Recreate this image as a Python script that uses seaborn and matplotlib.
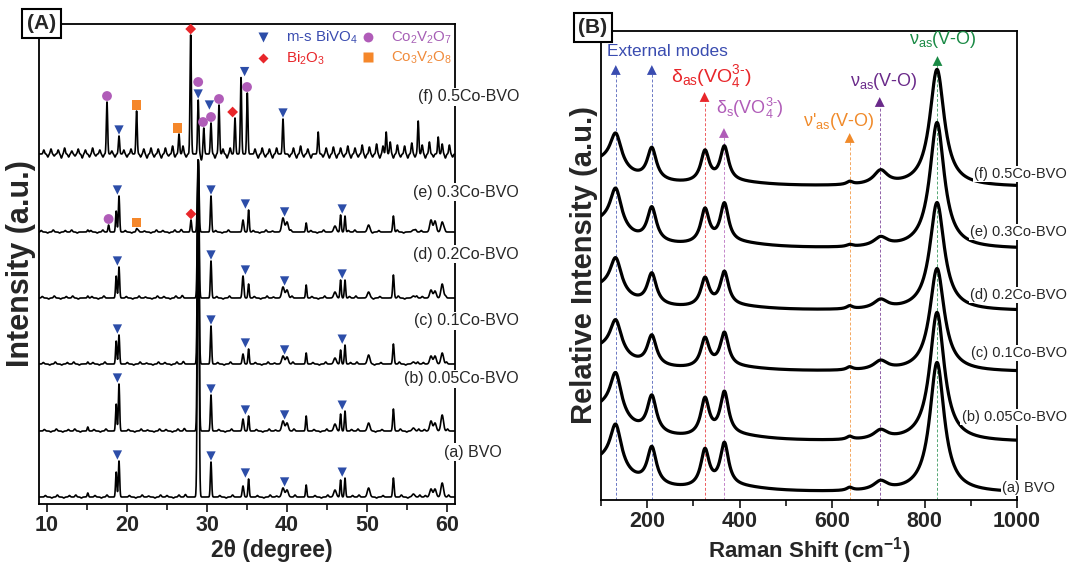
import numpy as np
import pandas as pd
import matplotlib
matplotlib.use('Agg')
import matplotlib.pyplot as plt
from matplotlib.lines import Line2D
import seaborn as sns

# ---------------- panel A : XRD ----------------
samples = ['(a) BVO', '(b) 0.05Co-BVO', '(c) 0.1Co-BVO', '(d) 0.2Co-BVO', '(e) 0.3Co-BVO', '(f) 0.5Co-BVO']
xrd_offsets = [7, 73, 140, 206, 272, 350]

# m-s BiVO4 reflections (2theta, width) and heights for samples a-e
bvo_pos   = [15.1, 18.65, 19.0, 28.9, 30.5, 34.5, 35.2, 39.5, 40.0, 42.4, 46.0, 46.7, 47.25, 50.2, 53.3, 55.8, 58.0, 58.5, 59.4]
bvo_width = [0.08, 0.08, 0.08, 0.1, 0.08, 0.1, 0.08, 0.16, 0.16, 0.08, 0.16, 0.08, 0.08, 0.16, 0.09, 0.16, 0.16, 0.16, 0.16]
xrd_a = [4, 25, 36, 337, 35, 11, 18, 9, 7, 12, 7, 17, 19, 9, 19, 3, 8, 8, 14]
xrd_b = [4, 27, 47, 271, 36, 12, 15, 10, 8, 15, 7, 17, 20, 8, 22, 3, 10, 8, 16]
xrd_c = [2, 23, 29, 204, 38, 10, 15, 8, 7, 11, 6, 14, 19, 9, 20, 2, 8, 8, 11]
xrd_d = [2, 22, 31, 138, 37, 22, 14, 11, 8, 13, 6, 18, 18, 6, 23, 2, 8, 7, 14]
xrd_e = [2, 21, 36, 72, 36, 12, 22, 14, 10, 9, 6, 17, 16, 7, 16, 2, 12, 11, 10]
# weak background ripple seen on samples a-e
ripple_pos = [9.8, 10.6, 11.3, 12.1, 12.8, 13.6, 14.3, 16.0, 16.8, 17.5, 20.3, 21.1, 21.9, 22.7, 23.5, 24.2,
              25.0, 25.8, 26.5, 27.3, 31.6, 32.4, 33.2, 36.3, 37.1, 37.9, 38.7, 41.0, 43.5, 44.3, 45.1,
              48.2, 49.0, 51.2, 52.0, 54.3, 55.1, 56.6, 57.3, 60.2]
ripple_h = [1.5, -1, 2, -1, 1.5, 2, -1, 1.5, -1, 2, 1.5, -1, 2, 1, -1, 2,
            1.5, -1, 2, 2.5, 1.5, -1, 2, 1.5, -1, 2, 1, 2, 1.5, -1, 2,
            1.5, 2, -1, 1.5, 2, -1, 2, 1.5, 2]
# secondary phase reflections in (e)
e_extra_pos = [17.7, 21.2, 28.0]
e_extra_h   = [7, 3, 12]

# sample (f): all reflections
f_pos = [17.5, 19.0, 21.2, 26.5, 27.96, 28.9, 29.6, 30.5, 31.5, 33.5, 34.25, 35.04, 39.5, 43.9, 52.4, 56.4, 58.9]
f_h   = [52, 18, 43, 20, 119, 54, 26, 31, 49, 36, 77, 61, 35, 22, 22, 33, 17]
# noisy background of (f), read as small spikes
f_noise_pos = [9.6, 10.1, 10.5, 10.9, 11.4, 11.8, 12.2, 12.7, 13.1, 13.5, 13.9, 14.4, 14.8, 15.3, 15.7, 16.1,
               16.6, 17.0, 18.1, 18.5, 19.6, 20.0, 20.5, 21.7, 22.1, 22.5, 23.0, 23.4, 23.9, 24.3, 24.8, 25.2,
               25.7, 26.0, 27.0, 27.4, 29.3, 31.0, 32.0, 32.5, 32.9, 36.0, 36.4, 36.9, 37.3, 37.8, 38.2, 38.7,
               40.3, 40.8, 41.2, 41.7, 42.1, 42.6, 43.0, 44.5, 44.9, 45.3, 45.8, 46.2, 46.7, 47.1, 47.6, 48.0,
               48.5, 48.9, 49.4, 49.8, 50.3, 50.7, 51.2, 51.6, 52.0, 52.9, 53.3, 53.8, 54.2, 54.7, 55.1, 55.6,
               56.0, 56.9, 57.3, 57.8, 58.3, 59.4, 59.8, 60.3, 60.7]
f_noise_h = [4, -3, 5, -2, 4, -4, 6, -3, 3, -2, 5, -4, 4, -3, 6, -2,
             4, -3, 3, -3, 4, -3, 5, -3, 5, -4, 6, -3, 5, -4, 6, -2,
             8, -3, 8, -3, -6, -4, 5, -4, 6, 5, -4, 6, -3, 5, -4, 6,
             -3, 6, -4, 8, -3, 5, -4, -3, 6, -4, 7, -4, 6, -3, 8, -4,
             6, -3, 9, -4, 7, -3, 10, -4, 8, 12, -4, 9, -3, 8, -4, 11,
             -3, 9, -4, 12, -3, 10, -4, 9, -3]

# phase markers: sample index, 2theta, phase, stack level
mk_sample = [5, 5, 5, 5, 5, 5, 5, 5, 5, 5, 5, 5, 5, 5, 5,
             4, 4, 4, 4, 4, 4, 4, 4,
             3, 3, 3, 3, 3, 2, 2, 2, 2, 2, 1, 1, 1, 1, 1, 0, 0, 0, 0, 0]
mk_pos = [17.5, 19.0, 21.2, 26.3, 27.96, 28.9, 28.9, 29.5, 30.5, 30.3, 31.5, 33.2, 34.7, 35.0, 39.5,
          17.7, 21.2, 28.0, 18.8, 30.5, 34.8, 39.7, 46.9,
          18.8, 30.5, 34.8, 39.7, 46.9, 18.8, 30.5, 34.8, 39.7, 46.9,
          18.8, 30.5, 34.8, 39.7, 46.9, 18.8, 30.5, 34.8, 39.7, 46.9]
mk_phase = ['Co2V2O7', 'BiVO4', 'Co3V2O8', 'Co3V2O8', 'Bi2O3', 'BiVO4', 'Co2V2O7', 'Co2V2O7', 'Co2V2O7',
            'BiVO4', 'Co2V2O7', 'Bi2O3', 'BiVO4', 'Co2V2O7', 'BiVO4',
            'Co2V2O7', 'Co3V2O8', 'Bi2O3'] + ['BiVO4'] * 25
mk_stack = [0, 0, 0, 0, 0, 0, 1, 0, 0, 1, 0, 0, 0, 0, 0] + [0] * 28

# ---------------- panel B : Raman ----------------
raman_offsets = [7, 58, 128, 189, 251, 313]
raman_pos   = [100, 400, 132, 210, 325, 367, 638, 705, 827]
raman_width = [60, 80, 15, 12, 11, 11, 8, 18, 19]
raman_a = [30, 4, 44, 37, 37, 43, 3, 9, 130]
raman_b = [32, 4, 43, 37, 37, 43, 3, 9, 129]
raman_c = [22, 3, 34, 30, 29, 34, 3, 9, 103]
raman_d = [22, 3, 35, 31, 28, 34, 3, 9, 108]
raman_e = [25, 4, 40, 34, 34, 39, 2, 9, 126]
raman_f = [24, 3, 34, 32, 31, 35, 3, 14, 117]

mode_pos = [132, 210, 324, 366, 638, 703, 828]
mode_tip = [435, 435, 408, 372, 367, 403, 444]
mode_col = ['#3a4cb0', '#3a4cb0', '#e8262a', '#b05cb8', '#f08a2a', '#6a2a8a', '#1a8a45']

# ---------------- build curves ----------------
def gauss(x, c, h, s):
    return h * np.exp(-0.5 * ((x - c) / s) ** 2)

def lorentz(x, c, h, w):
    return h / (1 + ((x - c) / w) ** 2)

tt = np.arange(9, 61.001, 0.02)
xrd_rows = []
for i, hs in enumerate([xrd_a, xrd_b, xrd_c, xrd_d, xrd_e]):
    y = np.zeros_like(tt)
    for c, h, s in zip(bvo_pos, hs, bvo_width):
        y += gauss(tt, c, h, s)
    for c, h in zip(ripple_pos, ripple_h):
        y += gauss(tt + 0.13 * i, c, h, 0.1)
    if i == 4:
        for c, h in zip(e_extra_pos, e_extra_h):
            y += gauss(tt, c, h, 0.08)
    xrd_rows.append(pd.DataFrame({'tt': tt, 'I': y + xrd_offsets[i], 'sample': samples[i]}))
y = np.zeros_like(tt)
for c, h in zip(f_pos, f_h):
    y += gauss(tt, c, h, 0.08)
for c, h in zip(f_noise_pos, f_noise_h):
    y += gauss(tt, c, h, 0.085)
xrd_rows.append(pd.DataFrame({'tt': tt, 'I': y + xrd_offsets[5], 'sample': samples[5]}))
xrd = pd.concat(xrd_rows, ignore_index=True)

pad, step = 6, 12
mk_y = []
for s, p, k in zip(mk_sample, mk_pos, mk_stack):
    d = xrd[(xrd['sample'] == samples[s]) & (xrd['tt'] > p - 0.5) & (xrd['tt'] < p + 0.5)]
    mk_y.append(d['I'].max() + pad + step * k)
marks = pd.DataFrame({'tt': mk_pos, 'I': mk_y, 'phase': mk_phase})

rs = np.arange(100, 1000.5, 1.0)
raman_rows = []
for i, hs in enumerate([raman_a, raman_b, raman_c, raman_d, raman_e, raman_f]):
    y = np.zeros_like(rs)
    for c, h, w in zip(raman_pos, hs, raman_width):
        y += lorentz(rs, c, h, w)
    raman_rows.append(pd.DataFrame({'shift': rs, 'I': y + raman_offsets[i], 'sample': samples[i]}))
raman = pd.concat(raman_rows, ignore_index=True)

# ---------------- style ----------------
sns.set_style('white')
plt.rcParams['font.family'] = ['Liberation Sans', 'DejaVu Sans']
plt.rcParams['mathtext.fontset'] = 'custom'
plt.rcParams['mathtext.rm'] = 'Liberation Sans'
plt.rcParams['mathtext.it'] = 'Liberation Sans:italic'
plt.rcParams['mathtext.bf'] = 'Liberation Sans:bold'
plt.rcParams['mathtext.default'] = 'rm'

fig = plt.figure(figsize=(10.72, 5.64), dpi=100)
axA = fig.add_axes([39 / 1072, 1 - 504 / 564, 416 / 1072, 480 / 564])
axB = fig.add_axes([601 / 1072, 1 - 500 / 564, 416 / 1072, 469 / 564])

phase_col = {'BiVO4': '#2c4da8', 'Co2V2O7': '#b05cb8', 'Bi2O3': '#e8262a', 'Co3V2O8': '#f5872a'}
phase_txt = {'BiVO4': '#3a4cb0', 'Bi2O3': '#e8262a', 'Co2V2O7': '#a65fb5', 'Co3V2O8': '#f08a3a'}
phase_mk = {'BiVO4': 'v', 'Co2V2O7': 'o', 'Bi2O3': 'D', 'Co3V2O8': 's'}
phase_size = {'BiVO4': 45, 'Co2V2O7': 50, 'Bi2O3': 30, 'Co3V2O8': 42}

# panel A
sns.lineplot(data=xrd, x='tt', y='I', hue='sample', palette=['black'] * 6, estimator=None,
             sort=False, legend=False, lw=1.2, ax=axA)
for ph in phase_col:
    d = marks[marks['phase'] == ph]
    axA.scatter(d['tt'], d['I'], marker=phase_mk[ph], s=phase_size[ph], color=phase_col[ph],
                edgecolors='none', zorder=4)
axA.set_xlim(9, 61)
axA.set_ylim(0, 480)
axA.set_yticks([])
axA.set_xticks([10, 20, 30, 40, 50, 60])
axA.set_xticks([15, 25, 35, 45, 55], minor=True)
axA.set_xlabel('2θ (degree)', fontsize=16.5, fontweight='bold')
axA.xaxis.set_label_coords(0.56, -0.072)
axA.set_ylabel('Intensity (a.u.)', fontsize=22, fontweight='bold', labelpad=2)

order = ['BiVO4', 'Bi2O3', 'Co2V2O7', 'Co3V2O8']
handles = [Line2D([], [], ls='', marker=phase_mk[p], color=phase_col[p], ms=np.sqrt(phase_size[p]), mec='none')
           for p in order]
labels = ['m-s BiVO$_4$', 'Bi$_2$O$_3$', 'Co$_2$V$_2$O$_7$', 'Co$_3$V$_2$O$_8$']
leg = axA.legend(handles, labels, loc='upper right', ncol=2, frameon=False, fontsize=10.8,
                 bbox_to_anchor=(1.025, 1.018), handlelength=1.0, handletextpad=1.0,
                 columnspacing=0.2, labelspacing=0.25)
for t, p in zip(leg.get_texts(), order):
    t.set_color(phase_txt[p])

for name, xx, yy in zip(samples, [66.9, 69, 69, 69, 69, 69], [52, 125, 183, 250, 312, 407]):
    axA.text(xx, yy, name, ha='right', va='center', fontsize=11.5, clip_on=False, zorder=6,
             bbox=dict(boxstyle='square,pad=0.1', fc='white', ec='none'))

# panel B
sns.lineplot(data=raman, x='shift', y='I', hue='sample', palette=['black'] * 6, estimator=None,
             sort=False, legend=False, lw=2.3, ax=axB)
for xm, yt, c in zip(mode_pos, mode_tip, mode_col):
    axB.plot([xm, xm], [0, yt - 8], ls=(0, (3, 2)), lw=0.7, color=c, alpha=0.75, zorder=1)
    axB.scatter([xm], [yt - 5], marker='^', s=50, color=c, edgecolors='none', zorder=4)
axB.set_xlim(100, 1000)
axB.set_ylim(0, 469)
axB.set_yticks([])
axB.set_xticks([200, 400, 600, 800, 1000])
axB.set_xticks([100, 300, 500, 700, 900], minor=True)
axB.set_xlabel('Raman Shift (cm$^{\\mathbf{-1}}$)', fontsize=16, fontweight='bold')
axB.xaxis.set_label_coords(0.5, -0.075)
axB.set_ylabel('Relative Intensity (a.u.)', fontsize=21, fontweight='bold', labelpad=2)

hy = '\u2010'
axB.text(113, 448, 'External modes', color='#3a4cb0', fontsize=12.5, ha='left', va='center')
axB.text(252, 423, 'δ$_{as}$(VO$_4^{3' + hy + '}$)', color='#e8262a', fontsize=14, ha='left', va='center')
axB.text(349, 392, 'δ$_s$(VO$_4^{3' + hy + '}$)', color='#b05cb8', fontsize=13, ha='left', va='center')
axB.text(537, 378, "ν'$_{as}$(V-O)", color='#f08a2a', fontsize=13, ha='left', va='center')
axB.text(638, 418, 'ν$_{as}$(V-O)', color='#6a2a8a', fontsize=13, ha='left', va='center')
axB.text(766, 460, 'ν$_{as}$(V-O)', color='#1a8a45', fontsize=13, ha='left', va='center')

for name, xx, yy in zip(samples, [1083, 1108, 1108, 1108, 1108, 1108], [12, 83, 147, 205, 268, 326]):
    axB.text(xx, yy, name, ha='right', va='center', fontsize=10.5, clip_on=False, zorder=6,
             bbox=dict(boxstyle='square,pad=0.1', fc='white', ec='none'))

for ax in (axA, axB):
    for sp in ax.spines.values():
        sp.set_linewidth(1.3)
        sp.set_color('black')
    ax.tick_params(axis='x', which='major', direction='out', length=6, width=1.3, labelsize=15.5, pad=2)
    ax.tick_params(axis='x', which='minor', direction='out', length=4, width=1.3)
    ax.tick_params(bottom=True, which='both')
    for lab in ax.get_xticklabels():
        lab.set_fontweight('bold')

box = dict(boxstyle='square,pad=0.22', fc='white', ec='black', lw=1.5)
fig.text(41.5 / 1072, 1 - 23.5 / 564, '(A)', ha='center', va='center', fontsize=15, fontweight='bold', bbox=box)
fig.text(593 / 1072, 1 - 27.5 / 564, '(B)', ha='center', va='center', fontsize=15, fontweight='bold', bbox=box)

fig.savefig('out.png', dpi=100)
